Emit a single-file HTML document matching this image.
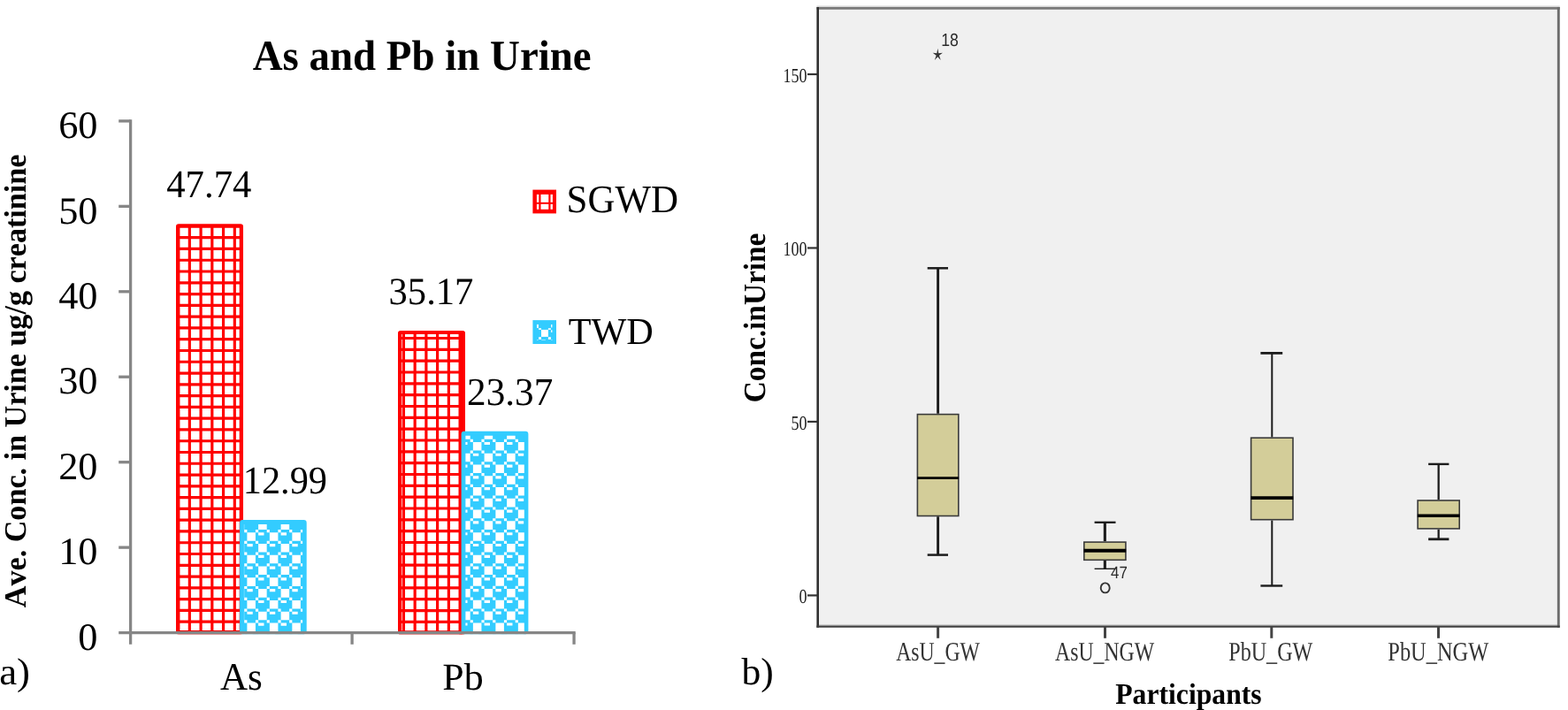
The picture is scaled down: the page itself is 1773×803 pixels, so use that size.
<!DOCTYPE html>
<html lang="en"><head><meta charset="utf-8"><title>As and Pb in Urine</title>
<style>html,body{margin:0;padding:0;background:#fff}body{width:1773px;height:803px;overflow:hidden}</style>
</head><body>
<svg width="1773" height="803" viewBox="0 0 1773 803" style="display:block;font-kerning:none;text-rendering:geometricPrecision">
<rect width="1773" height="803" fill="#fff"/>
<clipPath id="c1"><rect x="200.00" y="254.20" width="74.00" height="463.10"/></clipPath>
<path clip-path="url(#c1)" d="M188.86 253.20V717.30M201.60 253.20V717.30M214.34 253.20V717.30M227.08 253.20V717.30M239.82 253.20V717.30M252.56 253.20V717.30M265.30 253.20V717.30M278.04 253.20V717.30M199.00 243.12H275.00M199.00 255.90H275.00M199.00 268.68H275.00M199.00 281.46H275.00M199.00 294.24H275.00M199.00 307.02H275.00M199.00 319.80H275.00M199.00 332.58H275.00M199.00 345.36H275.00M199.00 358.14H275.00M199.00 370.92H275.00M199.00 383.70H275.00M199.00 396.48H275.00M199.00 409.26H275.00M199.00 422.04H275.00M199.00 434.82H275.00M199.00 447.60H275.00M199.00 460.38H275.00M199.00 473.16H275.00M199.00 485.94H275.00M199.00 498.72H275.00M199.00 511.50H275.00M199.00 524.28H275.00M199.00 537.06H275.00M199.00 549.84H275.00M199.00 562.62H275.00M199.00 575.40H275.00M199.00 588.18H275.00M199.00 600.96H275.00M199.00 613.74H275.00M199.00 626.52H275.00M199.00 639.30H275.00M199.00 652.08H275.00M199.00 664.86H275.00M199.00 677.64H275.00M199.00 690.42H275.00M199.00 703.20H275.00M199.00 715.98H275.00M199.00 728.76H275.00" stroke="#ff0000" stroke-width="3.185" fill="none"/>
<rect x="201.15" y="255.35" width="71.70" height="459.80" rx="0.8" fill="none" stroke="#ff0000" stroke-width="4.3" stroke-linejoin="round"/>
<clipPath id="c2"><rect x="275.90" y="593.10" width="66.20" height="124.40"/></clipPath>
<rect x="273.50" y="590.50" width="70.80" height="124.40" rx="0.8" fill="#33ccff" stroke="#33ccff" stroke-width="4.8" stroke-linejoin="round"/>
<path clip-path="url(#c2)" d="M266.64 589.42h9.55v9.58h-9.55zM276.20 586.23h3.19v3.19h-3.19zM288.94 586.23h3.19v3.19h-3.19zM279.38 589.42h6.37v3.19h-6.37zM292.12 589.42h9.55v9.58h-9.55zM276.20 599.01h3.19v3.19h-3.19zM288.94 599.01h3.19v3.19h-3.19zM301.68 586.23h3.19v3.19h-3.19zM314.42 586.23h3.19v3.19h-3.19zM304.87 589.42h6.37v3.19h-6.37zM317.61 589.42h9.55v9.58h-9.55zM301.68 599.01h3.19v3.19h-3.19zM314.42 599.01h3.19v3.19h-3.19zM327.16 586.23h3.19v3.19h-3.19zM339.90 586.23h3.19v3.19h-3.19zM330.34 589.42h6.37v3.19h-6.37zM343.08 589.42h9.55v9.58h-9.55zM327.16 599.01h3.19v3.19h-3.19zM339.90 599.01h3.19v3.19h-3.19zM266.64 602.20h6.37v3.19h-6.37zM266.64 614.98h9.55v9.58h-9.55zM279.38 602.20h9.55v9.58h-9.55zM292.12 602.20h6.37v3.19h-6.37zM276.20 611.79h3.19v3.19h-3.19zM288.94 611.79h3.19v3.19h-3.19zM279.38 614.98h6.37v3.19h-6.37zM292.12 614.98h9.55v9.58h-9.55zM276.20 624.57h3.19v3.19h-3.19zM288.94 624.57h3.19v3.19h-3.19zM304.87 602.20h9.55v9.58h-9.55zM317.61 602.20h6.37v3.19h-6.37zM301.68 611.79h3.19v3.19h-3.19zM314.42 611.79h3.19v3.19h-3.19zM304.87 614.98h6.37v3.19h-6.37zM317.61 614.98h9.55v9.58h-9.55zM301.68 624.57h3.19v3.19h-3.19zM314.42 624.57h3.19v3.19h-3.19zM330.34 602.20h9.55v9.58h-9.55zM343.08 602.20h6.37v3.19h-6.37zM327.16 611.79h3.19v3.19h-3.19zM339.90 611.79h3.19v3.19h-3.19zM330.34 614.98h6.37v3.19h-6.37zM343.08 614.98h9.55v9.58h-9.55zM327.16 624.57h3.19v3.19h-3.19zM339.90 624.57h3.19v3.19h-3.19zM266.64 627.76h6.37v3.19h-6.37zM266.64 640.54h9.55v9.58h-9.55zM279.38 627.76h9.55v9.58h-9.55zM292.12 627.76h6.37v3.19h-6.37zM276.20 637.35h3.19v3.19h-3.19zM288.94 637.35h3.19v3.19h-3.19zM279.38 640.54h6.37v3.19h-6.37zM292.12 640.54h9.55v9.58h-9.55zM276.20 650.12h3.19v3.19h-3.19zM288.94 650.12h3.19v3.19h-3.19zM304.87 627.76h9.55v9.58h-9.55zM317.61 627.76h6.37v3.19h-6.37zM301.68 637.35h3.19v3.19h-3.19zM314.42 637.35h3.19v3.19h-3.19zM304.87 640.54h6.37v3.19h-6.37zM317.61 640.54h9.55v9.58h-9.55zM301.68 650.12h3.19v3.19h-3.19zM314.42 650.12h3.19v3.19h-3.19zM330.34 627.76h9.55v9.58h-9.55zM343.08 627.76h6.37v3.19h-6.37zM327.16 637.35h3.19v3.19h-3.19zM339.90 637.35h3.19v3.19h-3.19zM330.34 640.54h6.37v3.19h-6.37zM343.08 640.54h9.55v9.58h-9.55zM327.16 650.12h3.19v3.19h-3.19zM339.90 650.12h3.19v3.19h-3.19zM266.64 653.32h6.37v3.19h-6.37zM266.64 666.10h9.55v9.58h-9.55zM279.38 653.32h9.55v9.58h-9.55zM292.12 653.32h6.37v3.19h-6.37zM276.20 662.91h3.19v3.19h-3.19zM288.94 662.91h3.19v3.19h-3.19zM279.38 666.10h6.37v3.19h-6.37zM292.12 666.10h9.55v9.58h-9.55zM276.20 675.69h3.19v3.19h-3.19zM288.94 675.69h3.19v3.19h-3.19zM304.87 653.32h9.55v9.58h-9.55zM317.61 653.32h6.37v3.19h-6.37zM301.68 662.91h3.19v3.19h-3.19zM314.42 662.91h3.19v3.19h-3.19zM304.87 666.10h6.37v3.19h-6.37zM317.61 666.10h9.55v9.58h-9.55zM301.68 675.69h3.19v3.19h-3.19zM314.42 675.69h3.19v3.19h-3.19zM330.34 653.32h9.55v9.58h-9.55zM343.08 653.32h6.37v3.19h-6.37zM327.16 662.91h3.19v3.19h-3.19zM339.90 662.91h3.19v3.19h-3.19zM330.34 666.10h6.37v3.19h-6.37zM343.08 666.10h9.55v9.58h-9.55zM327.16 675.69h3.19v3.19h-3.19zM339.90 675.69h3.19v3.19h-3.19zM266.64 678.88h6.37v3.19h-6.37zM266.64 691.66h9.55v9.58h-9.55zM279.38 678.88h9.55v9.58h-9.55zM292.12 678.88h6.37v3.19h-6.37zM276.20 688.47h3.19v3.19h-3.19zM288.94 688.47h3.19v3.19h-3.19zM279.38 691.66h6.37v3.19h-6.37zM292.12 691.66h9.55v9.58h-9.55zM276.20 701.25h3.19v3.19h-3.19zM288.94 701.25h3.19v3.19h-3.19zM304.87 678.88h9.55v9.58h-9.55zM317.61 678.88h6.37v3.19h-6.37zM301.68 688.47h3.19v3.19h-3.19zM314.42 688.47h3.19v3.19h-3.19zM304.87 691.66h6.37v3.19h-6.37zM317.61 691.66h9.55v9.58h-9.55zM301.68 701.25h3.19v3.19h-3.19zM314.42 701.25h3.19v3.19h-3.19zM330.34 678.88h9.55v9.58h-9.55zM343.08 678.88h6.37v3.19h-6.37zM327.16 688.47h3.19v3.19h-3.19zM339.90 688.47h3.19v3.19h-3.19zM330.34 691.66h6.37v3.19h-6.37zM343.08 691.66h9.55v9.58h-9.55zM327.16 701.25h3.19v3.19h-3.19zM339.90 701.25h3.19v3.19h-3.19zM266.64 704.44h6.37v3.19h-6.37zM266.64 717.22h9.55v9.58h-9.55zM279.38 704.44h9.55v9.58h-9.55zM292.12 704.44h6.37v3.19h-6.37zM276.20 714.03h3.19v3.19h-3.19zM288.94 714.03h3.19v3.19h-3.19zM279.38 717.22h6.37v3.19h-6.37zM292.12 717.22h9.55v9.58h-9.55zM304.87 704.44h9.55v9.58h-9.55zM317.61 704.44h6.37v3.19h-6.37zM301.68 714.03h3.19v3.19h-3.19zM314.42 714.03h3.19v3.19h-3.19zM304.87 717.22h6.37v3.19h-6.37zM317.61 717.22h9.55v9.58h-9.55zM330.34 704.44h9.55v9.58h-9.55zM343.08 704.44h6.37v3.19h-6.37zM327.16 714.03h3.19v3.19h-3.19zM339.90 714.03h3.19v3.19h-3.19zM330.34 717.22h6.37v3.19h-6.37zM343.08 717.22h9.55v9.58h-9.55z" fill="#fff"/>
<clipPath id="c3"><rect x="451.00" y="375.00" width="74.00" height="342.30"/></clipPath>
<path clip-path="url(#c3)" d="M443.66 374.00V717.30M456.40 374.00V717.30M469.14 374.00V717.30M481.88 374.00V717.30M494.62 374.00V717.30M507.36 374.00V717.30M520.10 374.00V717.30M532.84 374.00V717.30M450.00 369.66H526.00M450.00 382.50H526.00M450.00 395.33H526.00M450.00 408.17H526.00M450.00 421.00H526.00M450.00 433.84H526.00M450.00 446.67H526.00M450.00 459.51H526.00M450.00 472.34H526.00M450.00 485.18H526.00M450.00 498.01H526.00M450.00 510.85H526.00M450.00 523.68H526.00M450.00 536.52H526.00M450.00 549.35H526.00M450.00 562.19H526.00M450.00 575.02H526.00M450.00 587.86H526.00M450.00 600.69H526.00M450.00 613.53H526.00M450.00 626.37H526.00M450.00 639.20H526.00M450.00 652.04H526.00M450.00 664.87H526.00M450.00 677.71H526.00M450.00 690.54H526.00M450.00 703.38H526.00M450.00 716.21H526.00M450.00 729.05H526.00" stroke="#ff0000" stroke-width="3.185" fill="none"/>
<rect x="452.05" y="376.05" width="71.90" height="339.20" rx="0.8" fill="none" stroke="#ff0000" stroke-width="4.1" stroke-linejoin="round"/>
<rect x="519.30" y="375.00" width="3.60" height="342.30" fill="#ff0000"/>
<clipPath id="c4"><rect x="526.40" y="492.70" width="66.40" height="224.80"/></clipPath>
<rect x="524.00" y="490.10" width="71.00" height="224.80" rx="0.8" fill="#33ccff" stroke="#33ccff" stroke-width="4.8" stroke-linejoin="round"/>
<path clip-path="url(#c4)" d="M522.14 487.12h9.55v9.58h-9.55zM518.96 496.70h3.19v3.19h-3.19zM534.88 487.12h6.37v3.19h-6.37zM547.62 487.12h9.55v9.58h-9.55zM531.70 496.70h3.19v3.19h-3.19zM544.44 496.70h3.19v3.19h-3.19zM560.37 487.12h6.37v3.19h-6.37zM573.11 487.12h9.55v9.58h-9.55zM557.18 496.70h3.19v3.19h-3.19zM569.92 496.70h3.19v3.19h-3.19zM585.85 487.12h6.37v3.19h-6.37zM582.66 496.70h3.19v3.19h-3.19zM595.40 496.70h3.19v3.19h-3.19zM522.14 499.90h6.37v3.19h-6.37zM518.96 509.48h3.19v3.19h-3.19zM522.14 512.68h9.55v9.58h-9.55zM518.96 522.26h3.19v3.19h-3.19zM534.88 499.90h9.55v9.58h-9.55zM547.62 499.90h6.37v3.19h-6.37zM531.70 509.48h3.19v3.19h-3.19zM544.44 509.48h3.19v3.19h-3.19zM534.88 512.68h6.37v3.19h-6.37zM547.62 512.68h9.55v9.58h-9.55zM531.70 522.26h3.19v3.19h-3.19zM544.44 522.26h3.19v3.19h-3.19zM560.37 499.90h9.55v9.58h-9.55zM573.11 499.90h6.37v3.19h-6.37zM557.18 509.48h3.19v3.19h-3.19zM569.92 509.48h3.19v3.19h-3.19zM560.37 512.68h6.37v3.19h-6.37zM573.11 512.68h9.55v9.58h-9.55zM557.18 522.26h3.19v3.19h-3.19zM569.92 522.26h3.19v3.19h-3.19zM585.85 499.90h9.55v9.58h-9.55zM582.66 509.48h3.19v3.19h-3.19zM595.40 509.48h3.19v3.19h-3.19zM585.85 512.68h6.37v3.19h-6.37zM582.66 522.26h3.19v3.19h-3.19zM595.40 522.26h3.19v3.19h-3.19zM522.14 525.46h6.37v3.19h-6.37zM518.96 535.04h3.19v3.19h-3.19zM522.14 538.24h9.55v9.58h-9.55zM518.96 547.82h3.19v3.19h-3.19zM534.88 525.46h9.55v9.58h-9.55zM547.62 525.46h6.37v3.19h-6.37zM531.70 535.04h3.19v3.19h-3.19zM544.44 535.04h3.19v3.19h-3.19zM534.88 538.24h6.37v3.19h-6.37zM547.62 538.24h9.55v9.58h-9.55zM531.70 547.82h3.19v3.19h-3.19zM544.44 547.82h3.19v3.19h-3.19zM560.37 525.46h9.55v9.58h-9.55zM573.11 525.46h6.37v3.19h-6.37zM557.18 535.04h3.19v3.19h-3.19zM569.92 535.04h3.19v3.19h-3.19zM560.37 538.24h6.37v3.19h-6.37zM573.11 538.24h9.55v9.58h-9.55zM557.18 547.82h3.19v3.19h-3.19zM569.92 547.82h3.19v3.19h-3.19zM585.85 525.46h9.55v9.58h-9.55zM582.66 535.04h3.19v3.19h-3.19zM595.40 535.04h3.19v3.19h-3.19zM585.85 538.24h6.37v3.19h-6.37zM582.66 547.82h3.19v3.19h-3.19zM595.40 547.82h3.19v3.19h-3.19zM522.14 551.02h6.37v3.19h-6.37zM518.96 560.61h3.19v3.19h-3.19zM522.14 563.80h9.55v9.58h-9.55zM518.96 573.38h3.19v3.19h-3.19zM534.88 551.02h9.55v9.58h-9.55zM547.62 551.02h6.37v3.19h-6.37zM531.70 560.61h3.19v3.19h-3.19zM544.44 560.61h3.19v3.19h-3.19zM534.88 563.80h6.37v3.19h-6.37zM547.62 563.80h9.55v9.58h-9.55zM531.70 573.38h3.19v3.19h-3.19zM544.44 573.38h3.19v3.19h-3.19zM560.37 551.02h9.55v9.58h-9.55zM573.11 551.02h6.37v3.19h-6.37zM557.18 560.61h3.19v3.19h-3.19zM569.92 560.61h3.19v3.19h-3.19zM560.37 563.80h6.37v3.19h-6.37zM573.11 563.80h9.55v9.58h-9.55zM557.18 573.38h3.19v3.19h-3.19zM569.92 573.38h3.19v3.19h-3.19zM585.85 551.02h9.55v9.58h-9.55zM582.66 560.61h3.19v3.19h-3.19zM595.40 560.61h3.19v3.19h-3.19zM585.85 563.80h6.37v3.19h-6.37zM582.66 573.38h3.19v3.19h-3.19zM595.40 573.38h3.19v3.19h-3.19zM522.14 576.58h6.37v3.19h-6.37zM518.96 586.16h3.19v3.19h-3.19zM522.14 589.36h9.55v9.58h-9.55zM518.96 598.94h3.19v3.19h-3.19zM534.88 576.58h9.55v9.58h-9.55zM547.62 576.58h6.37v3.19h-6.37zM531.70 586.16h3.19v3.19h-3.19zM544.44 586.16h3.19v3.19h-3.19zM534.88 589.36h6.37v3.19h-6.37zM547.62 589.36h9.55v9.58h-9.55zM531.70 598.94h3.19v3.19h-3.19zM544.44 598.94h3.19v3.19h-3.19zM560.37 576.58h9.55v9.58h-9.55zM573.11 576.58h6.37v3.19h-6.37zM557.18 586.16h3.19v3.19h-3.19zM569.92 586.16h3.19v3.19h-3.19zM560.37 589.36h6.37v3.19h-6.37zM573.11 589.36h9.55v9.58h-9.55zM557.18 598.94h3.19v3.19h-3.19zM569.92 598.94h3.19v3.19h-3.19zM585.85 576.58h9.55v9.58h-9.55zM582.66 586.16h3.19v3.19h-3.19zM595.40 586.16h3.19v3.19h-3.19zM585.85 589.36h6.37v3.19h-6.37zM582.66 598.94h3.19v3.19h-3.19zM595.40 598.94h3.19v3.19h-3.19zM522.14 602.14h6.37v3.19h-6.37zM518.96 611.73h3.19v3.19h-3.19zM522.14 614.92h9.55v9.58h-9.55zM518.96 624.50h3.19v3.19h-3.19zM534.88 602.14h9.55v9.58h-9.55zM547.62 602.14h6.37v3.19h-6.37zM531.70 611.73h3.19v3.19h-3.19zM544.44 611.73h3.19v3.19h-3.19zM534.88 614.92h6.37v3.19h-6.37zM547.62 614.92h9.55v9.58h-9.55zM531.70 624.50h3.19v3.19h-3.19zM544.44 624.50h3.19v3.19h-3.19zM560.37 602.14h9.55v9.58h-9.55zM573.11 602.14h6.37v3.19h-6.37zM557.18 611.73h3.19v3.19h-3.19zM569.92 611.73h3.19v3.19h-3.19zM560.37 614.92h6.37v3.19h-6.37zM573.11 614.92h9.55v9.58h-9.55zM557.18 624.50h3.19v3.19h-3.19zM569.92 624.50h3.19v3.19h-3.19zM585.85 602.14h9.55v9.58h-9.55zM582.66 611.73h3.19v3.19h-3.19zM595.40 611.73h3.19v3.19h-3.19zM585.85 614.92h6.37v3.19h-6.37zM582.66 624.50h3.19v3.19h-3.19zM595.40 624.50h3.19v3.19h-3.19zM522.14 627.70h6.37v3.19h-6.37zM518.96 637.28h3.19v3.19h-3.19zM522.14 640.48h9.55v9.58h-9.55zM518.96 650.06h3.19v3.19h-3.19zM534.88 627.70h9.55v9.58h-9.55zM547.62 627.70h6.37v3.19h-6.37zM531.70 637.28h3.19v3.19h-3.19zM544.44 637.28h3.19v3.19h-3.19zM534.88 640.48h6.37v3.19h-6.37zM547.62 640.48h9.55v9.58h-9.55zM531.70 650.06h3.19v3.19h-3.19zM544.44 650.06h3.19v3.19h-3.19zM560.37 627.70h9.55v9.58h-9.55zM573.11 627.70h6.37v3.19h-6.37zM557.18 637.28h3.19v3.19h-3.19zM569.92 637.28h3.19v3.19h-3.19zM560.37 640.48h6.37v3.19h-6.37zM573.11 640.48h9.55v9.58h-9.55zM557.18 650.06h3.19v3.19h-3.19zM569.92 650.06h3.19v3.19h-3.19zM585.85 627.70h9.55v9.58h-9.55zM582.66 637.28h3.19v3.19h-3.19zM595.40 637.28h3.19v3.19h-3.19zM585.85 640.48h6.37v3.19h-6.37zM582.66 650.06h3.19v3.19h-3.19zM595.40 650.06h3.19v3.19h-3.19zM522.14 653.26h6.37v3.19h-6.37zM518.96 662.85h3.19v3.19h-3.19zM522.14 666.04h9.55v9.58h-9.55zM518.96 675.62h3.19v3.19h-3.19zM534.88 653.26h9.55v9.58h-9.55zM547.62 653.26h6.37v3.19h-6.37zM531.70 662.85h3.19v3.19h-3.19zM544.44 662.85h3.19v3.19h-3.19zM534.88 666.04h6.37v3.19h-6.37zM547.62 666.04h9.55v9.58h-9.55zM531.70 675.62h3.19v3.19h-3.19zM544.44 675.62h3.19v3.19h-3.19zM560.37 653.26h9.55v9.58h-9.55zM573.11 653.26h6.37v3.19h-6.37zM557.18 662.85h3.19v3.19h-3.19zM569.92 662.85h3.19v3.19h-3.19zM560.37 666.04h6.37v3.19h-6.37zM573.11 666.04h9.55v9.58h-9.55zM557.18 675.62h3.19v3.19h-3.19zM569.92 675.62h3.19v3.19h-3.19zM585.85 653.26h9.55v9.58h-9.55zM582.66 662.85h3.19v3.19h-3.19zM595.40 662.85h3.19v3.19h-3.19zM585.85 666.04h6.37v3.19h-6.37zM582.66 675.62h3.19v3.19h-3.19zM595.40 675.62h3.19v3.19h-3.19zM522.14 678.82h6.37v3.19h-6.37zM518.96 688.40h3.19v3.19h-3.19zM522.14 691.60h9.55v9.58h-9.55zM518.96 701.18h3.19v3.19h-3.19zM534.88 678.82h9.55v9.58h-9.55zM547.62 678.82h6.37v3.19h-6.37zM531.70 688.40h3.19v3.19h-3.19zM544.44 688.40h3.19v3.19h-3.19zM534.88 691.60h6.37v3.19h-6.37zM547.62 691.60h9.55v9.58h-9.55zM531.70 701.18h3.19v3.19h-3.19zM544.44 701.18h3.19v3.19h-3.19zM560.37 678.82h9.55v9.58h-9.55zM573.11 678.82h6.37v3.19h-6.37zM557.18 688.40h3.19v3.19h-3.19zM569.92 688.40h3.19v3.19h-3.19zM560.37 691.60h6.37v3.19h-6.37zM573.11 691.60h9.55v9.58h-9.55zM557.18 701.18h3.19v3.19h-3.19zM569.92 701.18h3.19v3.19h-3.19zM585.85 678.82h9.55v9.58h-9.55zM582.66 688.40h3.19v3.19h-3.19zM595.40 688.40h3.19v3.19h-3.19zM585.85 691.60h6.37v3.19h-6.37zM582.66 701.18h3.19v3.19h-3.19zM595.40 701.18h3.19v3.19h-3.19zM522.14 704.38h6.37v3.19h-6.37zM518.96 713.97h3.19v3.19h-3.19zM522.14 717.16h9.55v9.58h-9.55zM534.88 704.38h9.55v9.58h-9.55zM547.62 704.38h6.37v3.19h-6.37zM531.70 713.97h3.19v3.19h-3.19zM544.44 713.97h3.19v3.19h-3.19zM534.88 717.16h6.37v3.19h-6.37zM547.62 717.16h9.55v9.58h-9.55zM560.37 704.38h9.55v9.58h-9.55zM573.11 704.38h6.37v3.19h-6.37zM557.18 713.97h3.19v3.19h-3.19zM569.92 713.97h3.19v3.19h-3.19zM560.37 717.16h6.37v3.19h-6.37zM573.11 717.16h9.55v9.58h-9.55zM585.85 704.38h9.55v9.58h-9.55zM582.66 713.97h3.19v3.19h-3.19zM595.40 713.97h3.19v3.19h-3.19zM585.85 717.16h6.37v3.19h-6.37z" fill="#fff"/>
<g stroke="#868686" stroke-width="3.3" fill="none">
<path d="M147.6 135.25V728.8"/>
<path d="M134.2 715.6H650.7"/>
<path d="M134.2 136.90H147.6"/>
<path d="M134.2 233.35H147.6"/>
<path d="M134.2 329.80H147.6"/>
<path d="M134.2 426.25H147.6"/>
<path d="M134.2 522.70H147.6"/>
<path d="M134.2 619.15H147.6"/>
<path d="M398.1 715.6V728.8"/>
<path d="M649.05 715.6V728.8"/>
</g>
<text transform="translate(285.64 79.00) scale(0.9705 1)" font-family='"Liberation Serif", serif' font-size="48.32" font-weight="bold" fill="#000">As and Pb in Urine</text>
<text transform="translate(66.13 156.07) scale(1.0146 1)" font-family='"Liberation Serif", serif' font-size="43.72" fill="#000">60</text>
<text transform="translate(66.13 252.52) scale(1.0146 1)" font-family='"Liberation Serif", serif' font-size="43.72" fill="#000">50</text>
<text transform="translate(66.13 348.97) scale(1.0146 1)" font-family='"Liberation Serif", serif' font-size="43.72" fill="#000">40</text>
<text transform="translate(66.13 445.42) scale(1.0146 1)" font-family='"Liberation Serif", serif' font-size="43.72" fill="#000">30</text>
<text transform="translate(66.13 541.87) scale(1.0146 1)" font-family='"Liberation Serif", serif' font-size="43.72" fill="#000">20</text>
<text transform="translate(66.13 638.32) scale(1.0146 1)" font-family='"Liberation Serif", serif' font-size="43.72" fill="#000">10</text>
<text transform="translate(88.31 734.77) scale(1.0146 1)" font-family='"Liberation Serif", serif' font-size="43.72" fill="#000">0</text>
<text transform="translate(188.27 223.27) scale(0.9637 1)" font-family='"Liberation Serif", serif' font-size="44.32" fill="#000">47.74</text>
<text transform="translate(274.78 558.27) scale(0.9533 1)" font-family='"Liberation Serif", serif' font-size="44.36" fill="#000">12.99</text>
<text transform="translate(439.56 344.28) scale(0.9801 1)" font-family='"Liberation Serif", serif' font-size="43.47" fill="#000">35.17</text>
<text transform="translate(528.10 458.17) scale(0.9732 1)" font-family='"Liberation Serif", serif' font-size="44.36" fill="#000">23.37</text>
<rect x="602.4" y="214.6" width="26.6" height="26.8" fill="#ff0000"/>
<rect x="606.9" y="219.9" width="2.40" height="8.90" fill="#fff"/>
<rect x="606.9" y="230.8" width="2.40" height="6.00" fill="#fff"/>
<rect x="611.5" y="219.9" width="8.80" height="8.90" fill="#fff"/>
<rect x="611.5" y="230.8" width="8.80" height="6.00" fill="#fff"/>
<rect x="622.5" y="219.9" width="2.40" height="8.90" fill="#fff"/>
<rect x="622.5" y="230.8" width="2.40" height="6.00" fill="#fff"/>
<rect x="602.4" y="362.1" width="26.6" height="26.9" fill="#33ccff"/>
<rect x="612.0" y="372.9" width="7.90" height="8.00" fill="#fff"/>
<rect x="607.0" y="366.9" width="1.90" height="4.00" fill="#fff"/>
<rect x="609.1" y="371.2" width="2.90" height="1.70" fill="#fff"/>
<rect x="619.9" y="371.2" width="3.00" height="1.70" fill="#fff"/>
<rect x="623.1" y="367.0" width="1.30" height="3.40" fill="#fff"/>
<rect x="623.1" y="373.2" width="1.30" height="2.70" fill="#fff"/>
<rect x="609.1" y="381.2" width="2.90" height="2.70" fill="#fff"/>
<rect x="619.9" y="381.2" width="3.00" height="2.70" fill="#fff"/>
<rect x="607.0" y="384.15" width="1.70" height="0.8" fill="#fff" fill-opacity="0.6"/>
<rect x="612.2" y="384.15" width="4.70" height="0.8" fill="#fff" fill-opacity="0.6"/>
<rect x="623.2" y="384.15" width="1.40" height="0.8" fill="#fff" fill-opacity="0.6"/>
<text transform="translate(640.53 240.13) scale(0.9731 1)" font-family='"Liberation Serif", serif' font-size="44.15" fill="#000">SGWD</text>
<text transform="translate(642.64 388.85) scale(0.9882 1)" font-family='"Liberation Serif", serif' font-size="42.69" fill="#000">TWD</text>
<text transform="translate(249.08 780.07) scale(0.9795 1)" font-family='"Liberation Serif", serif' font-size="43.89" fill="#000">As</text>
<text transform="translate(500.34 779.98) scale(1.0154 1)" font-family='"Liberation Serif", serif' font-size="43.21" fill="#000">Pb</text>
<text transform="translate(-0.78 774.07) scale(1.0456 1)" font-family='"Liberation Serif", serif' font-size="42.90" fill="#000">a)</text>
<text transform="translate(838.40 774.00) scale(1.0055 1)" font-family='"Liberation Serif", serif' font-size="43.23" fill="#000">b)</text>
<text transform="translate(28.78 687.13) rotate(-90) scale(0.9748 1)" font-family='"Liberation Serif", serif' font-size="34.99" font-weight="bold" fill="#000">Ave. Conc. in Urine ug/g creatinine</text>
<rect x="924.7" y="9.4" width="837.60" height="699.20" fill="#f0f0f0"/>
<path d="M923.5 7.30H1763.7" stroke="#d6d6d6" stroke-width="1.6"/>
<path d="M923.5 9.4H1763.7" stroke="#7a7a7a" stroke-width="2.7"/>
<path d="M924.7 706.70H1760.8999999999999" stroke="#cfcfcf" stroke-width="1.4"/>
<path d="M1762.3 8.10V709.80" stroke="#6c6c6c" stroke-width="2.9"/>
<path d="M924.7 8.10V709.80" stroke="#303030" stroke-width="2.6"/>
<path d="M923.4000000000001 708.70H1763.7" stroke="#404040" stroke-width="2.3"/>
<path d="M913 673.40H924.7" stroke="#333" stroke-width="2.2"/>
<path d="M913 476.93H924.7" stroke="#333" stroke-width="2.2"/>
<path d="M913 280.46H924.7" stroke="#333" stroke-width="2.2"/>
<path d="M913 83.99H924.7" stroke="#333" stroke-width="2.2"/>
<text transform="translate(903.46 682.38) scale(0.7909 1)" font-family='"Liberation Serif", serif' font-size="22.82" fill="#222">0</text>
<text transform="translate(894.44 485.91) scale(0.7909 1)" font-family='"Liberation Serif", serif' font-size="22.82" fill="#222">50</text>
<text transform="translate(885.41 289.44) scale(0.7909 1)" font-family='"Liberation Serif", serif' font-size="22.82" fill="#222">100</text>
<text transform="translate(885.41 92.97) scale(0.7909 1)" font-family='"Liberation Serif", serif' font-size="22.82" fill="#222">150</text>
<path d="M1060.6 708.6V721.8" stroke="#444" stroke-width="3"/>
<path d="M1249.5 708.6V721.8" stroke="#444" stroke-width="3"/>
<path d="M1437.8 708.6V721.8" stroke="#444" stroke-width="3"/>
<path d="M1626.5 708.6V721.8" stroke="#444" stroke-width="3"/>
<text transform="translate(1013.17 747.00) scale(0.7814 1)" font-family='"Liberation Serif", serif' font-size="30.30" fill="#333">AsU_GW</text>
<text transform="translate(1193.07 747.00) scale(0.7828 1)" font-family='"Liberation Serif", serif' font-size="30.30" fill="#333">AsU_NGW</text>
<text transform="translate(1389.21 747.00) scale(0.7962 1)" font-family='"Liberation Serif", serif' font-size="30.30" fill="#333">PbU_GW</text>
<text transform="translate(1569.30 747.00) scale(0.8060 1)" font-family='"Liberation Serif", serif' font-size="30.30" fill="#333">PbU_NGW</text>
<text transform="translate(1261.26 796.14) scale(0.9418 1)" font-family='"Liberation Serif", serif' font-size="33.64" font-weight="bold" fill="#000">Participants</text>
<text transform="translate(865.10 455.23) rotate(-90) scale(0.9512 1)" font-family='"Liberation Serif", serif' font-size="35.03" font-weight="bold" fill="#000">Conc.inUrine</text>
<g stroke="#1c1c1c" fill="none"><path d="M1060.60 303.3V467.8M1060.60 584.3V627.6" stroke-width="2.9"/><path d="M1048.7 303.3H1072.0" stroke-width="2.5"/><path d="M1048.7 627.6H1072.0" stroke-width="2.5"/></g>
<rect x="1037.40" y="468.60" width="46.40" height="114.90" fill="#d3cd99" stroke="#3a3a3a" stroke-width="1.6"/>
<path d="M1037.10 540.6H1084.10" stroke="#000" stroke-width="2.9"/>
<g stroke="#1c1c1c" fill="none"><path d="M1249.35 590.8V612.3M1249.35 634.1V643.3" stroke-width="3.1"/><path d="M1237.6 590.8H1261.5" stroke-width="2.3"/><path d="M1237.6 643.3H1261.5" stroke-width="1.4"/></g>
<rect x="1225.80" y="613.10" width="47.10" height="20.20" fill="#d3cd99" stroke="#3a3a3a" stroke-width="1.6"/>
<path d="M1225.50 622.8H1273.20" stroke="#000" stroke-width="4.0"/>
<g stroke="#1c1c1c" fill="none"><path d="M1438.30 399.4V494.4M1438.30 588.5V662.5" stroke-width="2.0"/><path d="M1425.4 399.4H1450.2" stroke-width="2.8"/><path d="M1425.4 662.5H1450.2" stroke-width="2.4"/></g>
<rect x="1414.60" y="495.20" width="47.40" height="92.50" fill="#d3cd99" stroke="#3a3a3a" stroke-width="1.6"/>
<path d="M1414.30 563.1H1462.30" stroke="#000" stroke-width="3.6"/>
<g stroke="#1c1c1c" fill="none"><path d="M1626.65 524.9V565.2M1626.65 598.7V609.8" stroke-width="2.3"/><path d="M1615.1 524.9H1638.4" stroke-width="2.4"/><path d="M1615.1 609.8H1638.4" stroke-width="2.8"/></g>
<rect x="1603.10" y="566.00" width="47.10" height="31.90" fill="#d3cd99" stroke="#3a3a3a" stroke-width="1.6"/>
<path d="M1602.80 583.2H1650.50" stroke="#000" stroke-width="3.6"/>
<ellipse cx="1249.7" cy="664.9" rx="5.0" ry="5.5" fill="none" stroke="#333" stroke-width="1.9"/>
<polygon points="1060.30,56.10 1061.30,60.62 1065.91,60.18 1061.92,62.53 1063.77,66.77 1060.30,63.70 1056.83,66.77 1058.68,62.53 1054.69,60.18 1059.30,60.62" fill="#333" transform="translate(1060.3 62.0) scale(1 1.25) translate(-1060.3 -62.0)"/>
<text transform="translate(1064.26 52.00) scale(0.8668 1)" font-family='"Liberation Sans", sans-serif' font-size="20.34" fill="#2a2a2a">18</text>
<text transform="translate(1256.11 654.10) scale(0.8778 1)" font-family='"Liberation Sans", sans-serif' font-size="19.19" fill="#2a2a2a">47</text>
</svg>
</body></html>
